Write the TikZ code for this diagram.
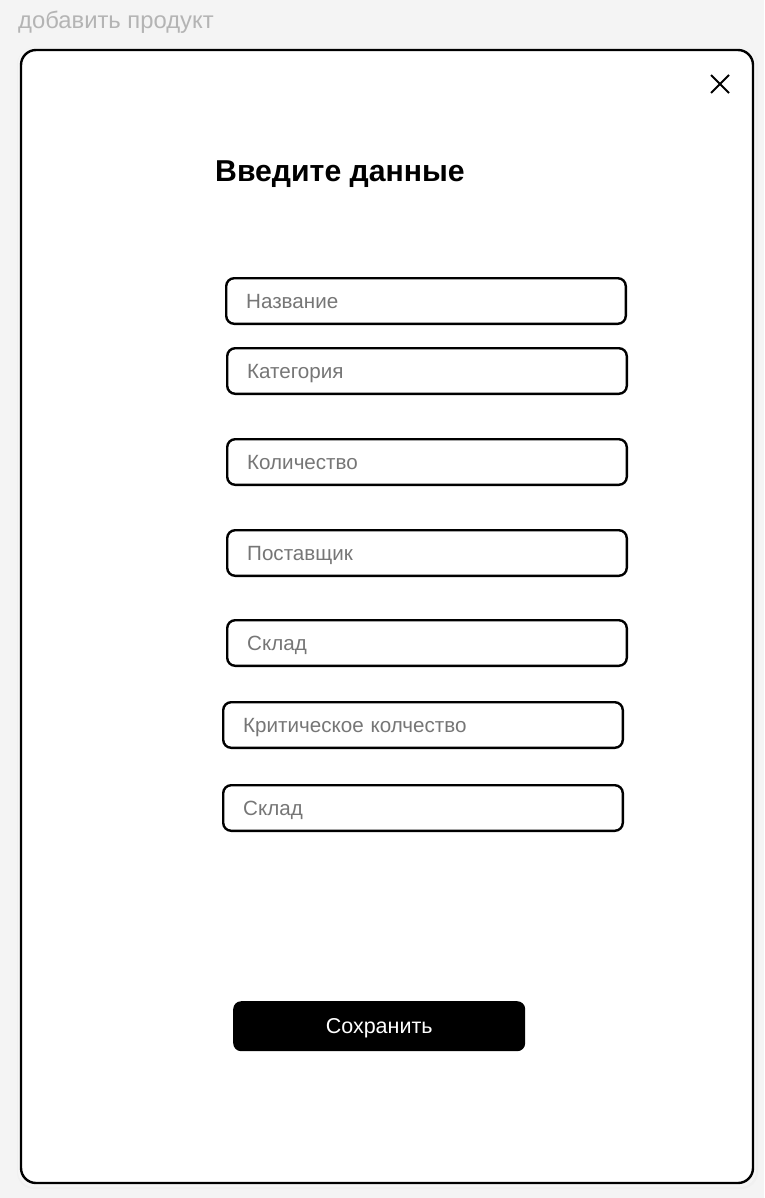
\documentclass[tikz,border=0pt]{standalone}
\usepackage{fontspec}
\setmainfont{Liberation Sans}
\definecolor{pagebg}{HTML}{F4F4F4}
\definecolor{hintgray}{HTML}{767676}
\definecolor{toptitle}{HTML}{B4B4B4}
\tikzset{
  field/.style={draw=black, line width=2.4pt, rounded corners=8pt, fill=white,
    minimum height=45.6pt, text width=359.6pt, inner xsep=20pt, align=left,
    anchor=north west, text=hintgray, text depth=0pt,
    font=\fontsize{20.6}{24}\selectfont},
  savebtn/.style={fill=black, rounded corners=8pt, minimum width=292pt,
    minimum height=50pt, anchor=north west, text=white, text depth=0pt,
    font=\fontsize{21.5}{25}\selectfont}
}
\begin{document}
\begin{tikzpicture}[x=1pt,y=-1pt]
        \fill[pagebg] (0,0) rectangle (764,1198);
        \useasboundingbox (0,0) rectangle (764,1198);
        \node[anchor=west, text=toptitle, font=\fontsize{23.8}{28}\selectfont, inner sep=0pt] (pagetitle) at (18,22) {добавить продукт};
        % window with a soft shadow
        \fill[black!6, rounded corners=17pt] (17,48) rectangle (758,1189);
        \fill[black!4, rounded corners=16pt] (18,48) rectangle (756,1187);
        \draw[line width=2.4pt, fill=white, rounded corners=15pt] (21,50) rectangle (753,1183);
        \draw[line width=2pt] (711,75) -- (729,93);
        \draw[line width=2pt] (729,75) -- (711,93);
        \node[anchor=west, font=\bfseries\fontsize{30.2}{34}\selectfont, inner sep=0pt] (heading) at (215,174) {Введите данные};
        % input fields
        \node[field] (fname) at (225,277) {Название};
        \node[field] (fcat) at (226,347) {Категория};
        \node[field] (fqty) at (226,438) {Количество};
        \node[field] (fsupp) at (226,529) {Поставщик};
        \node[field] (fstore) at (226,619) {Склад};
        \node[field] (fcrit) at (222,701) {Критическое колчество};
        \node[field] (fstore2) at (222,784) {Склад};
        \node[savebtn] (save) at (233,1001) {Сохранить};
    \end{tikzpicture}
\end{document}
